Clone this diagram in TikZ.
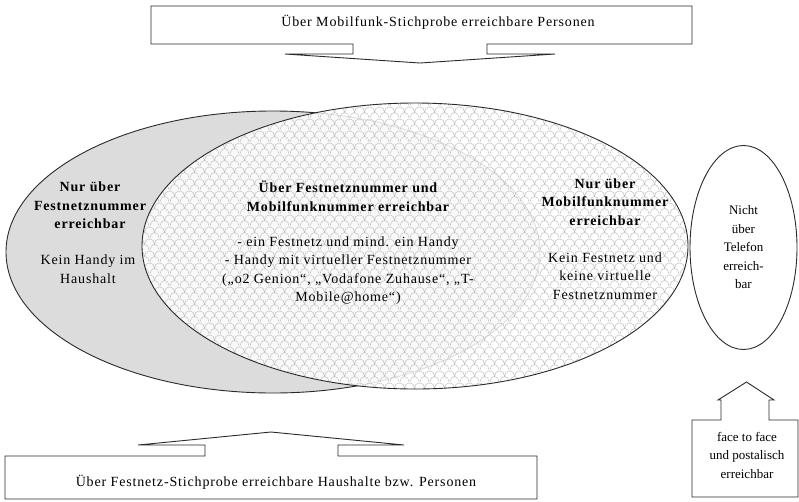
\documentclass[tikz,border=0pt]{standalone}
\usepackage{fontspec}
\setmainfont{Liberation Serif}
\newfontfamily\spaced{Liberation Serif}[LetterSpace=6]
\usetikzlibrary{shapes.geometric,patterns.meta}
\definecolor{festgray}{HTML}{DCDCDC}
\definecolor{edgecol}{HTML}{2A2A2A}
\definecolor{meshcol}{HTML}{BBBBBB}
\tikzdeclarepattern{
  name=scales, type=uncolored,
  bounding box={(0pt,0pt) and (10pt,12pt)},
  tile size={(10pt,12pt)},
  code={
    \pgfsetlinewidth{0.5pt}
    \pgfpathmoveto{\pgfpoint{0pt}{0pt}}
    \pgfpatharc{180}{0}{5pt and 6pt}
    \pgfpathmoveto{\pgfpoint{-5pt}{6pt}}
    \pgfpatharc{180}{0}{5pt and 6pt}
    \pgfpatharc{180}{0}{5pt and 6pt}
    \pgfusepath{stroke}
  }
}
\begin{document}
\begin{tikzpicture}[x=1pt,y=-1pt,
  lbl/.style={align=center, inner sep=0pt, font=\spaced\fontsize{14}{18.5}\selectfont},
  hdr/.style={align=center, inner sep=0pt, font=\spaced\bfseries\fontsize{14}{18.5}\selectfont},
  small/.style={align=center, inner sep=0pt, font=\fontsize{13}{18.5}\selectfont},
  callout/.style={draw=edgecol, line width=0.9pt, fill=white, line join=miter},
  oval/.style={ellipse, draw=edgecol, line width=0.9pt, inner sep=0pt}]
\useasboundingbox (0,0) rectangle (799,501);

% ellipses
\node[oval, fill=festgray, minimum width=534pt, minimum height=282pt] (fest) at (273,252) {};
\node[oval, minimum width=546pt, minimum height=286pt,
      preaction={fill=white, fill opacity=0.85},
      pattern=scales, pattern color=meshcol] (mobil) at (415,246) {};
\node[oval, fill=white, minimum width=107pt, minimum height=204pt] (tel) at (743.5,247.5) {};

% callouts
\draw[callout] (151,6) -- (692,6) -- (692,44) -- (487,44) -- (487,54) -- (555,54)
  -- (420,63) -- (285,54) -- (353,54) -- (353,44) -- (151,44) -- cycle;
\draw[callout] (5,456) -- (205,456) -- (205,445) -- (138,445) -- (271,432) -- (404,445)
  -- (338,445) -- (338,456) -- (537,456) -- (537,499) -- (5,499) -- cycle;
\draw[callout] (692,420) -- (721,420) -- (721,400) -- (718,400) -- (746.5,382) -- (774,400)
  -- (769,400) -- (769,420) -- (798,420) -- (798,497) -- (692,497) -- cycle;

% texts
\node[lbl] (ttop) at (438,22) {Über Mobilfunk-Stichprobe erreichbare Personen};
\node[lbl] (tbot) at (276,482) {Über Festnetz-Stichprobe erreichbare Haushalte bzw. Personen};
\node[small] (tff) at (747,455) {face to face\\und postalisch\\erreichbar};

\node[hdr] (hleft) at (90,205.5) {Nur über\\Festnetznummer\\erreichbar};
\node[lbl] (bleft) at (88,269) {Kein Handy im\\Haushalt};
\node[hdr] (hmid) at (348,196.5) {Über Festnetznummer und\\Mobilfunknummer erreichbar};
\node[lbl] (bmid) at (348,270.5) {- ein Festnetz und mind. ein Handy\\- Handy mit virtueller Festnetznummer\\(„o2 Genion“, „Vodafone Zuhause“, „T-\\Mobile@home“)};
\node[hdr] (hright) at (605,202) {Nur über\\Mobilfunknummer\\erreichbar};
\node[lbl] (bright) at (605,276) {Kein Festnetz und\\keine virtuelle\\Festnetznummer};
\node[small] (ttel) at (tel.center) {Nicht\\über\\Telefon\\erreich-\\bar};
\end{tikzpicture}
\end{document}
